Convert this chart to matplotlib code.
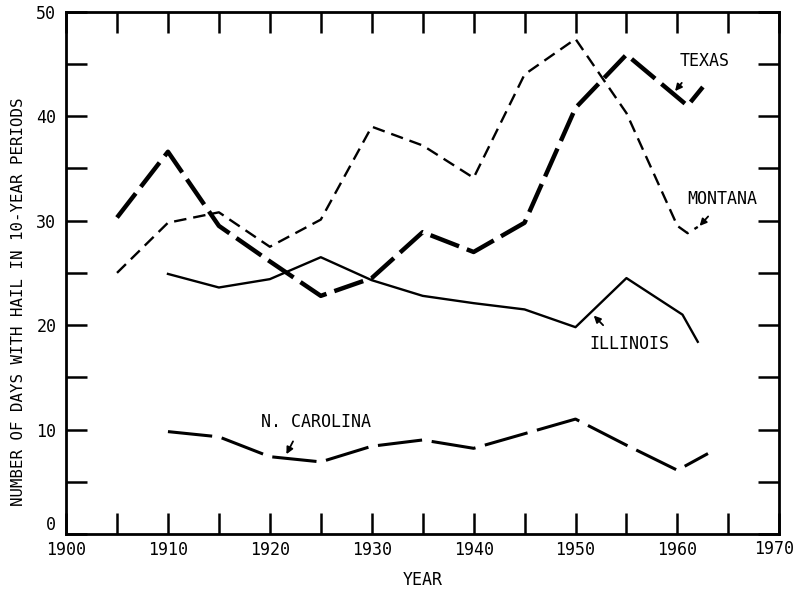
import matplotlib
matplotlib.use("Agg")
import matplotlib.pyplot as plt

plt.rcParams['font.family'] = ['DejaVu Sans Mono']
plt.rcParams['lines.scale_dashes'] = False

# Data (days with hail per 10-year period)
texas_years = [1905, 1910, 1915, 1920, 1925, 1930, 1935, 1940, 1945, 1950, 1955, 1961, 1962.5]
texas_days = [30.3, 36.6, 29.5, 26.1, 22.8, 24.5, 28.9, 27.0, 29.8, 40.8, 45.9, 41.0, 42.8]

montana_years = [1905, 1910, 1915, 1920, 1925, 1930, 1935, 1940, 1945, 1950, 1955, 1960, 1961, 1962]
montana_days = [25.0, 29.8, 30.8, 27.5, 30.1, 39.0, 37.2, 34.1, 44.0, 47.4, 40.3, 29.5, 28.8, 29.4]

illinois_years = [1910, 1915, 1920, 1925, 1930, 1935, 1940, 1945, 1950, 1955, 1960.5, 1962]
illinois_days = [24.9, 23.6, 24.4, 26.5, 24.3, 22.8, 22.1, 21.5, 19.8, 24.5, 21.0, 18.4]

ncarolina_years = [1910, 1915, 1920, 1925, 1930, 1935, 1940, 1945, 1950, 1955, 1960, 1963]
ncarolina_days = [9.8, 9.3, 7.4, 6.9, 8.4, 9.0, 8.2, 9.6, 11.0, 8.5, 6.1, 7.7]

x_ticks = [1900, 1910, 1920, 1930, 1940, 1950, 1960, 1970]
y_ticks = [0, 10, 20, 30, 40, 50]

fig = plt.figure(figsize=(7.96, 5.9), dpi=100)
ax = fig.add_axes([0.083, 0.095, 0.896, 0.885])

ax.plot(texas_years, texas_days, color='black', lw=3.2, dashes=(22, 6))
ax.plot(montana_years, montana_days, color='black', lw=1.7, dashes=(9, 5))
ax.plot(illinois_years, illinois_days, color='black', lw=1.7)
ax.plot(ncarolina_years, ncarolina_days, color='black', lw=2.2, dashes=(32, 7))

# labels with little arrows
lab_font = dict(fontsize=12, ha='center', va='center')
ax.text(1962.7, 45.3, 'TEXAS', **lab_font)
ax.text(1964.4, 32.1, 'MONTANA', **lab_font)
ax.text(1955.3, 18.2, 'ILLINOIS', **lab_font)
ax.text(1924.5, 10.7, 'N. CAROLINA', **lab_font)

arrow = dict(arrowstyle='-|>', color='black', lw=1.3, mutation_scale=10)
ax.annotate('', xy=(1959.6, 42.2), xytext=(1960.6, 43.4), arrowprops=arrow)
ax.annotate('', xy=(1962.0, 29.3), xytext=(1963.2, 30.6), arrowprops=arrow)
ax.annotate('', xy=(1951.6, 21.1), xytext=(1952.9, 19.8), arrowprops=arrow)
ax.annotate('', xy=(1921.5, 7.4), xytext=(1922.4, 9.1), arrowprops=arrow)

ax.set_xlim(1900, 1970)
ax.set_ylim(0, 50)
ax.set_xticks(x_ticks)
# last year label drawn by hand so it stays inside the picture
ax.set_xticklabels([str(t) for t in x_ticks[:-1]] + [''])
ax.set_xticks(range(1905, 1970, 10), minor=True)
ax.set_yticks(y_ticks)
ax.set_yticks(range(5, 50, 10), minor=True)
ax.tick_params(which='both', direction='in', length=15, width=1.8,
               top=True, right=True, labelsize=12)
ax.tick_params(axis='y', pad=7)
ax.tick_params(axis='x', pad=5)
ax.get_yticklabels()[0].set_va('bottom')
ax.text(1969.5, -0.012, str(x_ticks[-1]), transform=ax.get_xaxis_transform(),
        ha='center', va='top', fontsize=12)
for s in ax.spines.values():
    s.set_linewidth(2)

ax.set_xlabel('YEAR', fontsize=12, labelpad=9)
ax.set_ylabel('NUMBER OF DAYS WITH HAIL IN 10-YEAR PERIODS', fontsize=11.3)
ax.yaxis.set_label_coords(-0.056, 0.445)

fig.savefig('out.png', dpi=100)
